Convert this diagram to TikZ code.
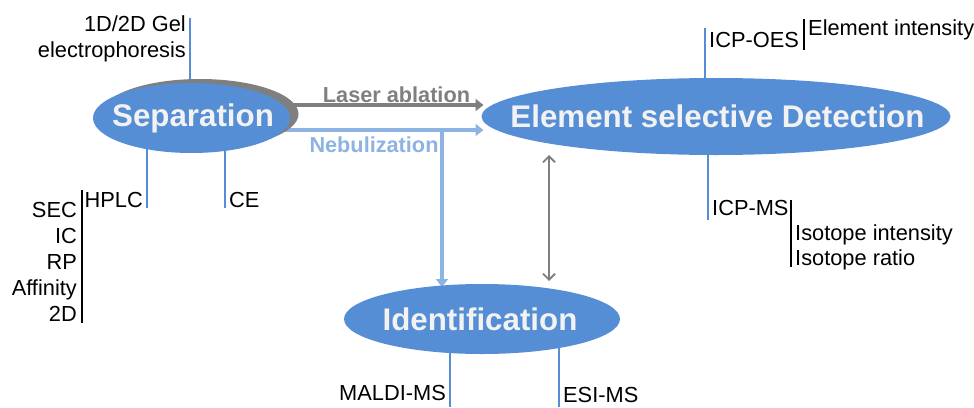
\documentclass[tikz,border=0pt]{standalone}
\usepackage{fontspec}
\setmainfont{Liberation Sans}
\usetikzlibrary{shapes.geometric,arrows.meta}
\pgfdeclarelayer{background}
\pgfsetlayers{background,main}
\definecolor{mainblue}{HTML}{558ED5}
\definecolor{lightblue}{HTML}{8DB3E2}
\definecolor{midgrey}{HTML}{7F7F7F}
\definecolor{paletext}{HTML}{F2F2F2}
\tikzset{
  txt/.style={inner sep=0pt, font=\fontsize{21.8}{26}\selectfont, text=black},
  bigell/.style={ellipse, fill=mainblue, draw=none, inner sep=0pt, outer sep=0pt},
  elltext/.style={inner sep=0pt, text=paletext, font=\fontsize{31.3}{36}\selectfont\bfseries},
  shadowell/.style={ellipse, fill=midgrey, draw=none, inner sep=0pt},
  branch/.style={draw=mainblue, line width=2pt},
  bar/.style={draw=black, line width=2pt},
  laser/.style={draw=midgrey, line width=4pt, -{Triangle[length=8pt,width=12pt]}},
  nebarrow/.style={draw=lightblue, line width=4pt, -{Triangle[length=8pt,width=12pt]}},
  dbl/.style={draw=midgrey, line width=1.8pt, {Straight Barb[length=6pt,width=12pt]}-{Straight Barb[length=6pt,width=12pt]}},
  arrlabel/.style={inner sep=0pt, font=\fontsize{21.7}{26}\selectfont\bfseries}
}
\begin{document}
\begin{tikzpicture}[x=1pt,y=-1pt]
\useasboundingbox (0,0) rectangle (974,407);

% ellipses
\node[shadowell, minimum width=197pt, minimum height=70pt] (sepshadow) at (200,114) {};
\node[bigell, minimum width=197pt, minimum height=70pt] (sep) at (191.5,118) {};
\node[bigell, minimum width=469pt, minimum height=77pt] (el) at (716,116.5) {};
\node[bigell, minimum width=276pt, minimum height=70pt] (id) at (482,319) {};
\node[elltext] (septxt) at ([xshift=1.5pt]sep.center) {Separation};
\node[elltext] (eltxt) at ([xshift=1.5pt]el.center) {Element selective Detection};
\node[elltext] (idtxt) at ([xshift=-2pt]id.center) {Identification};

% coordinates
\coordinate (gelTop) at (190,18);
\coordinate (hplcEnd) at (147,208);
\coordinate (ceEnd) at (225,208);
\coordinate (oesTop) at (705,28);
\coordinate (msEnd) at (708,220);
\coordinate (maldiEnd) at (450,407);
\coordinate (esiEnd) at (559,407);
\coordinate (la0) at (250,105);
\coordinate (nb0) at (250,130);
\coordinate (nbV) at (442,130);
\coordinate (da1) at (549,155);
\coordinate (da2) at (549,281);
\coordinate (b1a) at (82,190);
\coordinate (b1b) at (82,323);
\coordinate (b2a) at (804,19);
\coordinate (b2b) at (804,50);
\coordinate (b3a) at (791,200);
\coordinate (b3b) at (791,267);

\begin{pgfonlayer}{background}
\draw[branch] (gelTop) -- (gelTop |- sep.center);
\draw[branch] (hplcEnd) -- (hplcEnd |- sep.center);
\draw[branch] (ceEnd) -- (ceEnd |- sep.center);
\draw[branch] (oesTop) -- (oesTop |- el.center);
\draw[branch] (msEnd) -- (msEnd |- el.center);
\draw[branch] (maldiEnd) -- (maldiEnd |- id.center);
\draw[branch] (esiEnd) -- (esiEnd |- id.center);
\draw[laser] (la0) -- ([xshift=2pt]la0 -| el.west);
\draw[nebarrow] (nb0) -- ([xshift=2pt]nb0 -| el.west);
\draw[nebarrow] ([yshift=-2pt]nbV) -- ([yshift=-3pt]nbV |- id.north);
\end{pgfonlayer}

\draw[dbl] (da1) -- (da2);

% brackets
\draw[bar] (b1a) -- (b1b);
\draw[bar] (b2a) -- (b2b);
\draw[bar] (b3a) -- (b3b);

% labels
\node[arrlabel, text=midgrey, anchor=base] (lablaser) at (396.5,102) {Laser ablation};
\node[arrlabel, text=lightblue, anchor=base] (labneb) at (374,152) {Nebulization};

\node[txt, anchor=base east] (gel1) at (186,31) {1D/2D Gel};
\node[txt, anchor=base east] (gel2) at (186,57) {electrophoresis};
\node[txt, anchor=base east] (hplc) at (143,207) {HPLC};
\node[txt, anchor=base west] (ce) at (229,207) {CE};
\node[txt, anchor=base east] (sec) at (77,217) {SEC};
\node[txt, anchor=base east] (ic) at (77,243) {IC};
\node[txt, anchor=base east] (rp) at (77,269) {RP};
\node[txt, anchor=base east] (aff) at (77,295) {Affinity};
\node[txt, anchor=base east] (twod) at (77,321) {2D};
\node[txt, anchor=base west] (oes) at (709,47) {ICP-OES};
\node[txt, anchor=base west] (elint) at (808,35) {Element intensity};
\node[txt, anchor=base west] (icpms) at (712,215) {ICP-MS};
\node[txt, anchor=base west] (isoint) at (795,240) {Isotope intensity};
\node[txt, anchor=base west] (isorat) at (795,265) {Isotope ratio};
\node[txt, anchor=base east] (maldi) at (446,400) {MALDI-MS};
\node[txt, anchor=base west] (esi) at (563,402) {ESI-MS};
\end{tikzpicture}
\end{document}
